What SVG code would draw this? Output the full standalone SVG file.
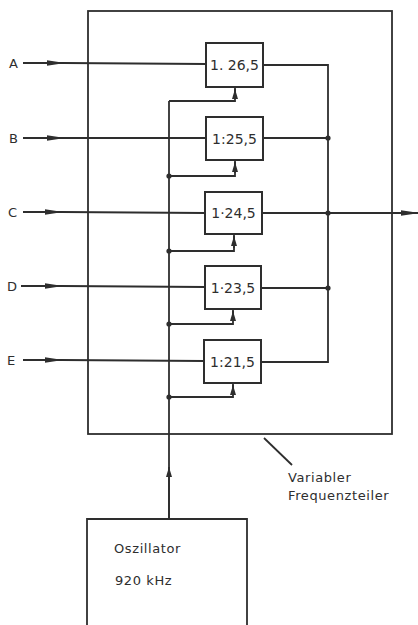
<svg xmlns="http://www.w3.org/2000/svg" width="418" height="625" viewBox="0 0 418 625">
<defs>
<style>
.ln{stroke:#2e2e2e;stroke-width:1.8;fill:none}
.bx{stroke:#2e2e2e;stroke-width:2;fill:#fff}
.dot{fill:#2e2e2e}
.t{font-family:"DejaVu Sans","Liberation Sans",sans-serif;fill:#2e2e2e}
.lbl{font-size:13px}
.bt{font-size:14px}
.sm{font-size:13px;letter-spacing:0.6px}
</style>
<marker id="ar" viewBox="0 0 18 8" refX="17" refY="4" markerWidth="18" markerHeight="8" markerUnits="userSpaceOnUse" orient="auto">
<path d="M0,1.3 L18,4 L0,6.7 Z" fill="#2e2e2e"/>
</marker>
<marker id="sa" viewBox="0 0 10 6" refX="10" refY="3" markerWidth="10" markerHeight="6" markerUnits="userSpaceOnUse" orient="auto">
<path d="M0,0 L10,3 L0,6 Z" fill="#2e2e2e"/>
</marker>
</defs>
<rect width="418" height="625" fill="#fff"/>
<g id="frame">
<rect x="88" y="11" width="304" height="423" class="ln"/>
</g>
<g id="connectors">
<line x1="23" y1="63" x2="64" y2="63" class="ln" marker-end="url(#ar)"/>
<line x1="64" y1="63" x2="206" y2="64" class="ln"/>
<line x1="23" y1="138" x2="64" y2="138" class="ln" marker-end="url(#ar)"/>
<line x1="64" y1="138" x2="206" y2="138" class="ln"/>
<line x1="23" y1="212" x2="62" y2="212" class="ln" marker-end="url(#ar)"/>
<line x1="62" y1="212" x2="205" y2="213" class="ln"/>
<line x1="21" y1="286" x2="62" y2="286" class="ln" marker-end="url(#ar)"/>
<line x1="62" y1="286" x2="205" y2="287" class="ln"/>
<line x1="23" y1="360" x2="62" y2="360" class="ln" marker-end="url(#ar)"/>
<line x1="62" y1="360" x2="204" y2="361" class="ln"/>
<line x1="169" y1="519" x2="169" y2="101" class="ln"/>
<line x1="169" y1="519" x2="169" y2="467" class="ln" marker-end="url(#sa)"/>
<polyline points="169,101 235,101 235,88" class="ln"/>
<line x1="235" y1="99" x2="235" y2="89" class="ln" marker-end="url(#sa)"/>
<polyline points="169,176 235,176 235,161" class="ln"/>
<line x1="235" y1="173" x2="235" y2="162" class="ln" marker-end="url(#sa)"/>
<polyline points="169,251 234,251 234,235" class="ln"/>
<line x1="234" y1="248" x2="234" y2="236" class="ln" marker-end="url(#sa)"/>
<polyline points="169,324 233,324 233,310" class="ln"/>
<line x1="233" y1="321" x2="233" y2="311" class="ln" marker-end="url(#sa)"/>
<polyline points="169,397 233,397 233,384" class="ln"/>
<line x1="233" y1="394" x2="233" y2="385" class="ln" marker-end="url(#sa)"/>
<circle cx="169" cy="176" r="2.6" class="dot"/>
<circle cx="169" cy="251" r="2.6" class="dot"/>
<circle cx="169" cy="324" r="2.6" class="dot"/>
<circle cx="169" cy="397" r="2.6" class="dot"/>
<polyline points="263,65 328,65 328,362 261,362" class="ln"/>
<line x1="263" y1="138" x2="328" y2="138" class="ln"/>
<line x1="262" y1="213" x2="328" y2="213" class="ln"/>
<line x1="261" y1="288" x2="328" y2="288" class="ln"/>
<line x1="328" y1="213" x2="418" y2="213" class="ln" marker-end="url(#ar)"/>
<circle cx="328" cy="138" r="2.6" class="dot"/>
<circle cx="328" cy="213" r="2.6" class="dot"/>
<circle cx="328" cy="288" r="2.6" class="dot"/>
<line x1="264" y1="438" x2="292" y2="465" class="ln"/>
</g>
<g id="labels" class="t lbl">
<text x="9" y="68">A</text>
<text x="9" y="143">B</text>
<text x="8" y="217">C</text>
<text x="7" y="291">D</text>
<text x="7" y="365">E</text>
</g>
<g id="div1"><rect x="206" y="43" width="57" height="44" class="bx"/><text x="234.5" y="70" text-anchor="middle" class="t bt">1. 26,5</text></g>
<g id="div2"><rect x="206" y="117" width="57" height="43" class="bx"/><text x="234.5" y="144" text-anchor="middle" class="t bt">1:25,5</text></g>
<g id="div3"><rect x="205" y="192" width="57" height="42" class="bx"/><text x="233.5" y="218" text-anchor="middle" class="t bt">1·24,5</text></g>
<g id="div4"><rect x="205" y="266" width="56" height="43" class="bx"/><text x="233" y="293" text-anchor="middle" class="t bt">1·23,5</text></g>
<g id="div5"><rect x="204" y="340" width="57" height="43" class="bx"/><text x="232.5" y="367" text-anchor="middle" class="t bt">1:21,5</text></g>
<g id="oscillator">
<polyline points="87,625 87,519 247,519 247,625" class="ln"/>
<text x="114" y="553" class="t sm">Oszillator</text>
<text x="115" y="585" class="t sm">920 kHz</text>
</g>
<g id="caption" class="t sm">
<text x="288" y="482">Variabler</text>
<text x="288" y="500">Frequenzteiler</text>
</g>
</svg>
